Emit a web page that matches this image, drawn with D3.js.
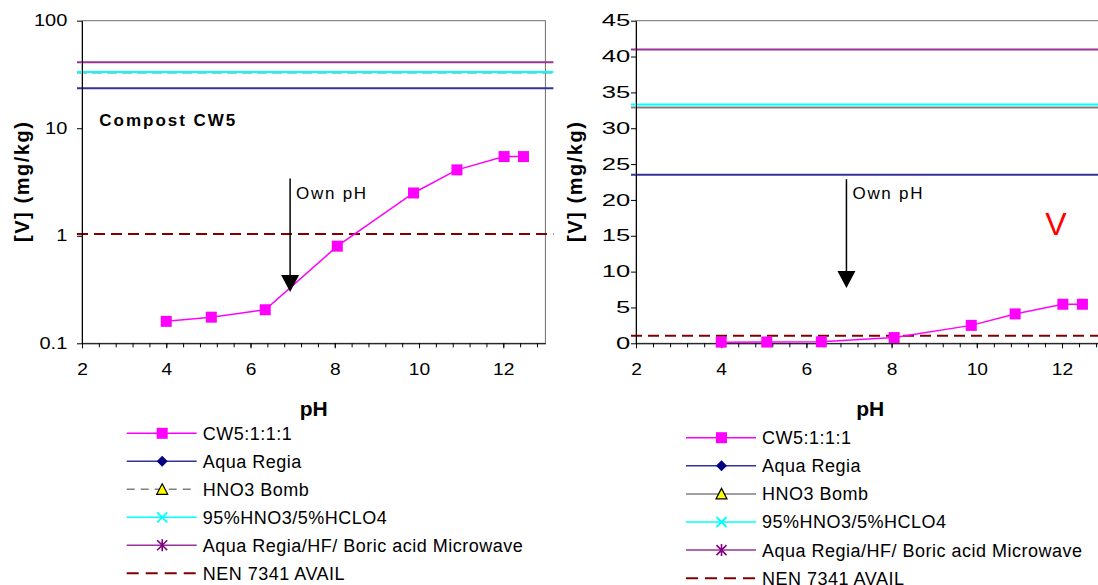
<!DOCTYPE html>
<html><head><meta charset="utf-8">
<script src="https://cdn.jsdelivr.net/npm/d3@7"></script>
<style>
body{margin:0;background:#fff}
text{font-family:Arial,"Liberation Sans",sans-serif;fill:#000}
</style>
</head><body>
<svg id="c" width="1098" height="585" xmlns="http://www.w3.org/2000/svg"></svg>
<script>
// ---------------- data ----------------
const seriesName = "CW5:1:1:1";
const pH = [4.0, 5.07, 6.35, 8.06, 9.87, 10.9, 12.02, 12.48];
const vConc = [0.16, 0.175, 0.205, 0.8, 2.5, 4.1, 5.45, 5.45];

const refNames = ["Aqua Regia", "HNO3 Bomb", "95%HNO3/5%HCLO4", "Aqua Regia/HF/ Boric acid Microwave", "NEN 7341 AVAIL"];
const refValues = [23.5, 32.9, 33.3, 41.0, 1.04];

const xTicks = [2, 4, 6, 8, 10, 12];
const xMinorStep = 0.4;
const xDomain = [2, 13];
const logTicks = [0.1, 1, 10, 100];
const logDomain = [0.1, 100];
const linTicks = [0, 5, 10, 15, 20, 25, 30, 35, 40, 45];
const linDomain = [0, 45];

const ownPHLabel = "Own pH";
const ownPH = 6.94;
const arrowLog = [3.4, 0.3];      // start, tip (mg/kg) on log chart
const arrowLin = [22.9, 7.7];     // start, tip (mg/kg) on linear chart
const compostLabel = "Compost CW5";
const elementLabel = "V";
const yTitle = "[V] (mg/kg)";
const xTitle = "pH";

// ---------------- styles ----------------
const styles = {
  series: {color: "#FF00FF"},
  refs: [
    {color: "#333399", dash: null, marker: "diamond"},
    {color: "#808080", dash: "10,5", marker: "triangle"},
    {color: "#00FFFF", dash: null, marker: "x"},
    {color: "#993399", dash: null, marker: "star"},
    {color: "#800000", dash: "11,6", marker: null}
  ]
};

const svg = d3.select("#c");
svg.append("rect").attr("width", 1098).attr("height", 585).attr("fill", "#fff");

function drawChart(opt) {
  const g = svg.append("g");
  const x = d3.scaleLinear().domain(xDomain).range([opt.x0, opt.x1]);
  const y = opt.log
    ? d3.scaleLog().domain(logDomain).range([opt.yb, opt.yt])
    : d3.scaleLinear().domain(linDomain).range([opt.yb, opt.yt]);

  // frame (plot area border)
  g.append("rect").attr("x", opt.x0).attr("y", opt.yt)
    .attr("width", opt.x1 - opt.x0).attr("height", opt.yb - opt.yt)
    .attr("fill", "none").attr("stroke", "#6e6e6e").attr("stroke-width", 1);

  // reference horizontal lines
  const xa = opt.x0 - 5, xb = opt.x1 + 8;
  refValues.forEach((v, i) => {
    const st = styles.refs[i];
    let dash = st.dash;
    if (i === 1 && !opt.log) dash = null;
    g.append("line").attr("x1", xa).attr("x2", xb)
      .attr("y1", y(v)).attr("y2", y(v))
      .attr("stroke", st.color).attr("stroke-width", 2)
      .attr("stroke-dasharray", dash);
  });

  // axes
  const minors = d3.range(xDomain[0], xDomain[1] + 1e-9, xMinorStep);
  g.append("g").attr("transform", `translate(0,${opt.yb})`)
    .call(d3.axisBottom(x).tickValues(minors).tickSize(4).tickFormat("").tickSizeOuter(0))
    .call(a => a.select(".domain").remove());
  const xAx = g.append("g").attr("transform", `translate(0,${opt.yb})`)
    .call(d3.axisBottom(x).tickValues(xTicks).tickSize(5).tickPadding(15).tickSizeOuter(0));
  xAx.select(".domain").attr("stroke", "#000");
  xAx.selectAll("text").attr("font-size", 16).attr("transform", "scale(1.2,1)");

  const yAxis = d3.axisLeft(y).tickValues(opt.log ? logTicks : linTicks)
    .tickSize(5).tickPadding(2).tickSizeOuter(0)
    .tickFormat(d => String(d));
  const yAx = g.append("g").attr("transform", `translate(${opt.x0},0)`).call(yAxis);
  yAx.select(".domain").attr("stroke", "#000");
  yAx.selectAll("text").attr("font-size", 16).attr("x", 0)
    .attr("transform", `translate(${-opt.yLabOff},0) scale(${opt.yLabScale},1)`);

  // series
  const pts = pH.map((p, i) => [p, vConc[i]]);
  g.append("path").datum(pts)
    .attr("d", d3.line().x(d => x(d[0])).y(d => y(d[1])))
    .attr("fill", "none").attr("stroke", styles.series.color).attr("stroke-width", 1.5);
  g.selectAll(".pt").data(pts).join("rect")
    .attr("x", d => x(d[0]) - 5.5).attr("y", d => y(d[1]) - 5.5)
    .attr("width", 11).attr("height", 11).attr("fill", styles.series.color);

  // own pH arrow
  const arr = opt.log ? arrowLog : arrowLin;
  const ax = x(ownPH), ay0 = y(arr[0]), ay1 = y(arr[1]);
  g.append("line").attr("x1", ax).attr("x2", ax).attr("y1", ay0).attr("y2", ay1 - 15)
    .attr("stroke", "#000").attr("stroke-width", 1.5);
  g.append("path").attr("d", `M${ax - 9},${ay1 - 17}L${ax + 9},${ay1 - 17}L${ax},${ay1}Z`).attr("fill", "#000");
  g.append("text").attr("x", ax + 6).attr("y", 199).attr("font-size", 17)
    .attr("textLength", 70).attr("lengthAdjust", "spacing").text(ownPHLabel);

  // titles
  g.append("text").attr("x", (opt.x0 + opt.x1) / 2).attr("y", 416)
    .attr("text-anchor", "middle").attr("font-size", 21).attr("font-weight", "bold").text(xTitle);
  g.append("text").attr("transform", `translate(${opt.titleX},${(opt.yt + opt.yb) / 2}) rotate(-90)`)
    .attr("text-anchor", "middle").attr("font-size", 20).attr("font-weight", "bold")
    .attr("textLength", 120).attr("lengthAdjust", "spacing").text(yTitle);

  // legend
  const names = [seriesName].concat(refNames);
  names.forEach((n, i) => {
    const ly = opt.ly0 + i * opt.ldy;
    const lg = g.append("g");
    let color, dash = null, marker;
    if (i === 0) { color = styles.series.color; marker = "square"; }
    else {
      const st = styles.refs[i - 1];
      color = st.color; dash = st.dash; marker = st.marker;
      if (i === 2) dash = opt.log ? "8,6" : null;
      if (i === 5) dash = "12,7";
    }
    lg.append("line").attr("x1", opt.lx0).attr("x2", opt.lx0 + 70).attr("y1", ly).attr("y2", ly)
      .attr("stroke", color).attr("stroke-width", i === 5 ? 2 : 1.5).attr("stroke-dasharray", dash);
    const mx = opt.lx0 + 35.5;
    if (marker === "square") {
      lg.append("rect").attr("x", mx - 5.5).attr("y", ly - 5.5).attr("width", 11).attr("height", 11).attr("fill", color);
    } else if (marker === "diamond") {
      lg.append("path").attr("d", `M${mx},${ly - 5.5}L${mx + 5.5},${ly}L${mx},${ly + 5.5}L${mx - 5.5},${ly}Z`).attr("fill", "#000080");
    } else if (marker === "triangle") {
      lg.append("path").attr("d", `M${mx},${ly - 5.5}L${mx + 5.5},${ly + 5}L${mx - 5.5},${ly + 5}Z`)
        .attr("fill", "#FFFF00").attr("stroke", "#000").attr("stroke-width", 1.2);
    } else if (marker === "x") {
      lg.append("path").attr("d", `M${mx - 5},${ly - 5}L${mx + 5},${ly + 5}M${mx - 5},${ly + 5}L${mx + 5},${ly - 5}`)
        .attr("stroke", "#00FFFF").attr("stroke-width", 1.8);
    } else if (marker === "star") {
      lg.append("path").attr("d", `M${mx - 5},${ly - 5}L${mx + 5},${ly + 5}M${mx - 5},${ly + 5}L${mx + 5},${ly - 5}M${mx},${ly - 6}L${mx},${ly + 6}`)
        .attr("stroke", "#800080").attr("stroke-width", 1.6);
    }
    lg.append("text").attr("x", opt.lx0 + 76).attr("y", ly).attr("dy", "0.36em")
      .attr("font-size", 18).style("letter-spacing", "0.5px").text(n);
  });
  return {g, x, y};
}

const left = drawChart({x0: 82, x1: 545.4, yt: 20.7, yb: 343.3, log: true, titleX: 29,
  yLabOff: 14.7, yLabScale: 1.25, lx0: 126.7, ly0: 433.3, ldy: 28});
const right = drawChart({x0: 636, x1: 1104.6, yt: 20.7, yb: 343.3, log: false, titleX: 582,
  yLabOff: 5.7, yLabScale: 1.6, lx0: 686, ly0: 437.7, ldy: 28.1});

left.g.append("text").attr("x", 99.3).attr("y", 126).attr("font-size", 17).attr("font-weight", "bold")
  .attr("textLength", 136).attr("lengthAdjust", "spacing").text(compostLabel);
right.g.append("text").attr("x", 1056).attr("y", 235).attr("text-anchor", "middle")
  .attr("font-size", 32).style("fill", "#FF0000").text(elementLabel);
</script>
</body></html>
